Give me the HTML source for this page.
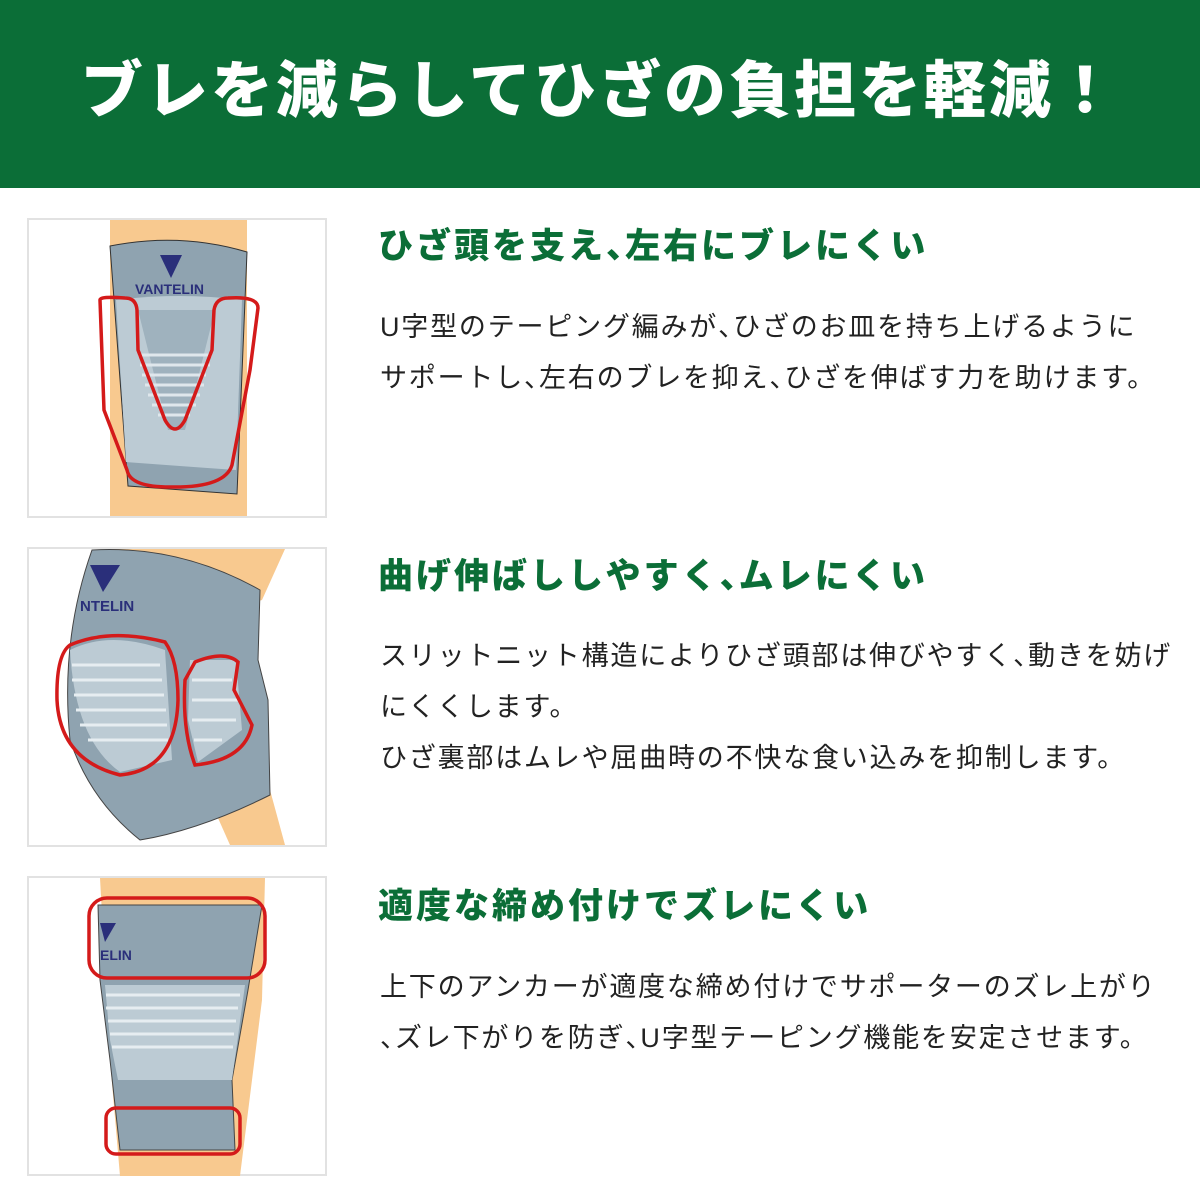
<!DOCTYPE html>
<html><head><meta charset="utf-8"><style>
body{margin:0;width:1200px;height:1200px;background:#fff;position:relative;overflow:hidden;font-family:"Liberation Sans","Noto Sans CJK JP",sans-serif}
.bar{position:absolute;left:0;top:0;width:1200px;height:188px;background:#0b6e37}
.title{position:absolute;left:0;top:52px;width:1200px;text-align:center;color:#fff;font-size:62px;font-weight:900;letter-spacing:3px;line-height:80px}
.h{position:absolute;left:378px;color:#0b6e37;font-size:35px;font-weight:900;line-height:44px;white-space:nowrap;letter-spacing:3px}
.p{position:absolute;left:380px;color:#222;font-size:27px;line-height:51px;white-space:nowrap;letter-spacing:1.8px}
svg{position:absolute;left:0;top:0}
</style></head><body>
<div class="bar"></div>
<div class="title">ブレを減らしてひざの負担を軽減！</div>
<svg width="1200" height="1200" viewBox="0 0 1200 1200">
<g fill="#fff" stroke="#e2e2e2" stroke-width="2">
<rect x="28" y="219" width="298" height="298"/>
<rect x="28" y="548" width="298" height="298"/>
<rect x="28" y="877" width="298" height="298"/>
</g>
<rect x="110" y="220" width="137" height="296" fill="#f8c98f"/>
<path d="M110 246 Q180 232 247 252 L237 494 Q180 490 128 486 Z" fill="#8fa3b0" stroke="#333" stroke-width="1"/>
<path d="M116 300 Q180 292 242 300 L236 470 Q180 466 126 462 Z" fill="#bccbd4"/>
<path d="M138 310 L215 310 L205 350 L185 430 L168 430 L148 350 Z" fill="#9fb2be"/>
<g stroke="#dfe7ec" stroke-width="3"><line x1="138" y1="355" x2="212" y2="355"/><line x1="140" y1="365" x2="210" y2="365"/><line x1="142" y1="375" x2="206" y2="375"/><line x1="145" y1="385" x2="204" y2="385"/><line x1="148" y1="395" x2="200" y2="395"/><line x1="152" y1="405" x2="196" y2="405"/><line x1="158" y1="415" x2="190" y2="415"/></g>
<path d="M160 255 L182 255 L171 278 Z" fill="#2a2f7a"/>
<text x="135" y="294" font-size="14" font-weight="bold" fill="#2a2f7a" font-family="Liberation Sans">VANTELIN</text>
<path d="M100 300 Q100 296 125 298 Q136 298 137 310 L138 350 L165 420 Q175 438 185 420 L212 350 L214 310 Q216 298 228 298 Q258 296 258 308 L250 370 L232 465 Q225 488 170 487 Q130 487 127 470 L104 410 Z" fill="none" stroke="#d41a1a" stroke-width="3.5"/>
<path d="M110 549 L285 549 L262 600 L230 610 Z" fill="#f8c98f"/>
<path d="M210 800 L270 790 L285 845 L230 845 Z" fill="#f8c98f"/>
<path d="M92 550 Q180 545 260 590 L258 660 L268 700 L270 795 Q200 830 140 840 Q90 800 70 740 Q60 640 92 550 Z" fill="#8fa3b0" stroke="#444" stroke-width="1"/>
<path d="M70 650 Q110 630 165 650 L172 760 L120 772 Q75 740 70 650 Z" fill="#bccbd4"/>
<path d="M190 660 L236 660 L242 730 L198 762 L188 720 Z" fill="#bccbd4"/>
<g stroke="#e6edf1" stroke-width="3"><line x1="72" y1="665" x2="160" y2="665"/><line x1="72" y1="680" x2="162" y2="680"/><line x1="74" y1="695" x2="164" y2="695"/><line x1="76" y1="710" x2="166" y2="710"/><line x1="80" y1="725" x2="167" y2="725"/><line x1="88" y1="740" x2="168" y2="740"/><line x1="192" y1="680" x2="232" y2="680"/><line x1="192" y1="700" x2="238" y2="700"/><line x1="192" y1="720" x2="236" y2="720"/><line x1="194" y1="740" x2="222" y2="740"/></g>
<path d="M90 565 L120 565 L103 592 Z" fill="#2a2f7a"/>
<text x="80" y="611" font-size="15" font-weight="bold" fill="#2a2f7a" font-family="Liberation Sans">NTELIN</text>
<path d="M70 645 Q110 628 165 642 Q178 660 178 700 Q176 770 120 775 Q60 760 57 700 Q56 655 70 645 Z" fill="none" stroke="#d41a1a" stroke-width="3.5"/>
<path d="M195 662 Q225 650 238 662 L234 690 L252 725 Q245 760 195 765 Q182 730 185 680 Z" fill="none" stroke="#d41a1a" stroke-width="3.5"/>
<path d="M100 878 L265 878 L262 1000 L240 1176 L120 1176 L110 1060 Z" fill="#f8c98f"/>
<path d="M98 905 L262 905 L248 990 L232 1080 L235 1150 L120 1150 L110 1060 L100 980 Z" fill="#8fa3b0" stroke="#444" stroke-width="1"/>
<path d="M105 985 L245 985 L232 1080 L118 1080 L110 1040 Z" fill="#bccbd4"/>
<g stroke="#e6edf1" stroke-width="3"><line x1="106" y1="995" x2="240" y2="995"/><line x1="106" y1="1008" x2="238" y2="1008"/><line x1="108" y1="1021" x2="236" y2="1021"/><line x1="110" y1="1034" x2="234" y2="1034"/><line x1="112" y1="1047" x2="233" y2="1047"/></g>
<path d="M100 923 L116 923 L105 942 Z" fill="#2a2f7a"/>
<text x="100" y="960" font-size="14" font-weight="bold" fill="#2a2f7a" font-family="Liberation Sans">ELIN</text>
<rect x="89" y="898" width="176" height="80" rx="18" fill="none" stroke="#d41a1a" stroke-width="3.5"/>
<rect x="106" y="1108" width="134" height="46" rx="10" fill="none" stroke="#d41a1a" stroke-width="3.5"/>
</svg>
<div class="h" style="top:225px">ひざ頭を支え<span style="letter-spacing:-16px">、</span>左右にブレにくい</div>
<div class="p" style="top:302px">U字型のテーピング編みが<span style="letter-spacing:-12px">、</span>ひざのお皿を持ち上げるように<br>サポートし<span style="letter-spacing:-12px">、</span>左右のブレを抑え<span style="letter-spacing:-12px">、</span>ひざを伸ばす力を助けます。</div>
<div class="h" style="top:555px">曲げ伸ばししやすく<span style="letter-spacing:-16px">、</span>ムレにくい</div>
<div class="p" style="top:631px">スリットニット構造によりひざ頭部は伸びやすく<span style="letter-spacing:-12px">、</span>動きを妨げ<br>にくくします。<br>ひざ裏部はムレや屈曲時の不快な食い込みを抑制します。</div>
<div class="h" style="top:885px">適度な締め付けでズレにくい</div>
<div class="p" style="top:962px">上下のアンカーが適度な締め付けでサポーターのズレ上がり<br><span style="letter-spacing:-12px">、</span>ズレ下がりを防ぎ<span style="letter-spacing:-12px">、</span>U字型テーピング機能を安定させます。</div>
</body></html>
